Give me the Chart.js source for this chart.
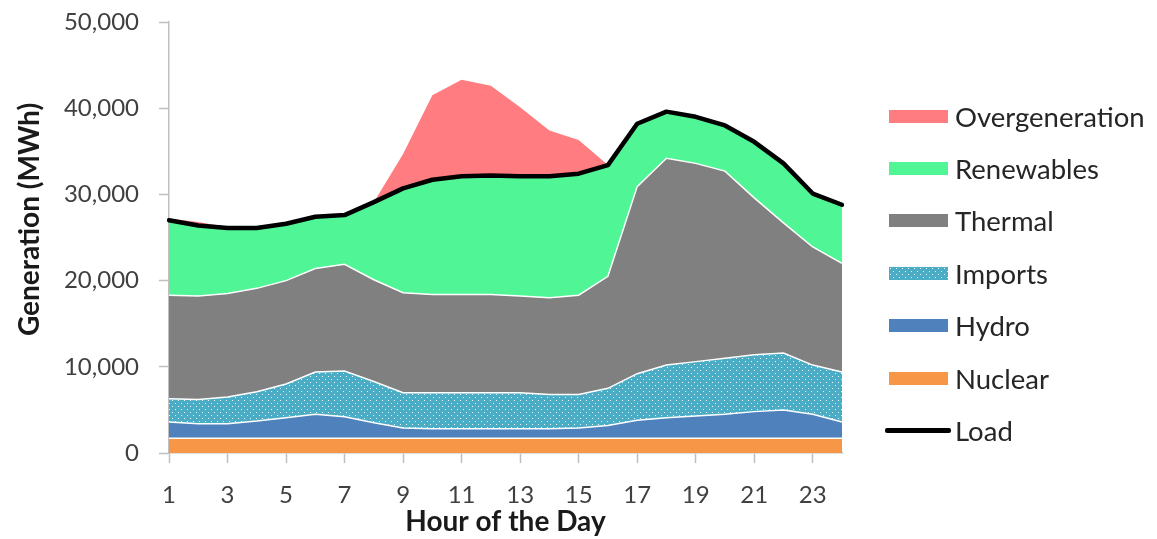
<!DOCTYPE html>
<html>
<head>
<meta charset="utf-8">
<script src="https://cdn.jsdelivr.net/npm/chart.js@4.4.1/dist/chart.umd.min.js"></script>
<style>
  html, body { margin: 0; padding: 0; background: #fff; }
  #wrap { position: relative; width: 1157px; height: 539px; }
  .item { position: absolute; left: 889px; height: 30px; display: flex; align-items: center;
          font: 27.5px Lato; color: #262626; white-space: nowrap; }
  .swatch { width: 59px; height: 13px; margin-right: 7px; }
  .swatch.line { width: 66px; height: 5px; margin-left: -4px; margin-right: 4px; border-radius: 2px; }
</style>
</head>
<body>
<div id="wrap">
  <canvas id="genChart" width="1157" height="539"></canvas>
  <div id="legend"></div>
</div>
<script>
// Hourly generation by source (MWh)
const hours = ["1","2","3","4","5","6","7","8","9","10","11","12","13","14","15","16","17","18","19","20","21","22","23","24"];
const nuclear = [1700,1700,1700,1700,1700,1700,1700,1700,1700,1700,1700,1700,1700,1700,1700,1700,1700,1700,1700,1700,1700,1700,1700,1700];
const hydro = [1900,1700,1700,2000,2400,2800,2500,1800,1200,1100,1100,1100,1100,1100,1200,1500,2100,2400,2600,2800,3100,3300,2800,1900];
const imports = [2700,2800,3100,3400,3900,4900,5300,4800,4100,4200,4200,4200,4200,4000,3900,4300,5400,6100,6300,6500,6600,6600,5700,5800];
const thermal = [12000,12000,12000,12000,12000,12000,12400,11800,11600,11400,11400,11400,11200,11200,11500,13000,21700,24000,23000,21700,18200,15100,13700,12600];
const renewables = [8700,8200,7600,7000,6600,6000,5700,9000,12100,13300,13700,13800,13900,14100,14100,12900,7300,5400,5400,5300,6500,6900,6200,6800];
const overgeneration = [200,400,100,0,0,0,0,0,4000,9800,11200,10400,8000,5300,3900,0,0,0,0,0,0,0,0,0];
const load = [27000,26400,26100,26100,26600,27400,27600,29100,30700,31700,32100,32200,32100,32100,32400,33400,38200,39600,39000,38000,36100,33600,30100,28800];

const ctx = document.getElementById("genChart").getContext("2d");

// dotted fill for imports
const pc = document.createElement("canvas");
pc.width = 6; pc.height = 6;
const p = pc.getContext("2d");
p.fillStyle = "#4bacc6";
p.fillRect(0, 0, 6, 6);
p.fillStyle = "rgba(255,255,255,0.9)";
p.fillRect(1, 1, 1, 1);
p.fillRect(4, 4, 1, 1);
const importsFill = ctx.createPattern(pc, "repeat");

const axisGrey = "#bfbfbf";
const tickFont = { family: "Lato", size: 24 };
const titleFont = { family: "Lato", size: 28, weight: "bold" };

// y axis title sits a bit above the middle in the original
const yTitle = {
    id: "yTitle",
    afterDraw(chart) {
        const c = chart.ctx;
        const a = chart.chartArea;
        c.save();
        c.translate(30, (a.top + a.bottom) / 2 - 18);
        c.rotate(-Math.PI / 2);
        c.font = "bold 28px Lato";
        c.fillStyle = "#1a1a1a";
        c.textAlign = "center";
        c.textBaseline = "middle";
        c.fillText("Generation (MWh)", 0, 0);
        c.restore();
    }
};

const genChart = new Chart(ctx, {
    type: "line",
    data: {
        labels: hours,
        datasets: [
            { label: "Nuclear", data: nuclear, backgroundColor: "#f79646", borderColor: "#ffffff", borderWidth: 1.5, fill: "origin" },
            { label: "Hydro", data: hydro, backgroundColor: "#4f81bd", borderColor: "#ffffff", borderWidth: 1.5, fill: "-1" },
            { label: "Imports", data: imports, backgroundColor: importsFill, borderColor: "#ffffff", borderWidth: 1.5, fill: "-1" },
            { label: "Thermal", data: thermal, backgroundColor: "#808080", borderColor: "#ffffff", borderWidth: 1.5, fill: "-1" },
            { label: "Renewables", data: renewables, backgroundColor: "#50f596", borderColor: "#50f596", borderWidth: 0, fill: "-1" },
            { label: "Overgeneration", data: overgeneration, backgroundColor: "#ff7c80", borderColor: "#ff7c80", borderWidth: 0, fill: "-1" },
            { label: "Load", data: load, borderColor: "#000000", borderWidth: 4.5, fill: false, stack: "load", order: -1,
              borderJoinStyle: "round", borderCapStyle: "round" }
        ]
    },
    options: {
        responsive: false,
        animation: false,
        layout: { padding: { top: 22, right: 315, left: 0, bottom: 0 } },
        elements: { point: { radius: 0 }, line: { tension: 0 } },
        plugins: {
            legend: { display: false },
            tooltip: { enabled: false }
        },
        scales: {
            x: {
                grid: {
                    drawOnChartArea: false,
                    tickLength: 10,
                    tickWidth: 1.5,
                    tickColor: (c) => (c.index % 2 === 0 ? axisGrey : "rgba(0,0,0,0)")
                },
                border: { color: axisGrey, width: 1.5 },
                ticks: {
                    autoSkip: false,
                    maxRotation: 0,
                    padding: 18,
                    font: tickFont,
                    color: "#404040",
                    callback: (v, i) => (i % 2 === 0 ? hours[i] : "")
                },
                title: { display: true, text: "Hour of the Day", font: titleFont, color: "#1a1a1a", padding: 0 },
                afterFit: (s) => { s.height = 86; s.paddingLeft = 0; s.paddingRight = 0; }
            },
            y: {
                stacked: true,
                min: 0,
                max: 50000,
                grid: { drawOnChartArea: false, tickLength: 10, tickWidth: 1.5, tickColor: axisGrey },
                border: { color: axisGrey, width: 1.5 },
                ticks: {
                    stepSize: 10000,
                    padding: 20,
                    font: tickFont,
                    color: "#404040",
                    callback: (v) => v.toLocaleString("en-US")
                },
                afterFit: (s) => { s.width = 169; s.paddingTop = 0; s.paddingBottom = 0; }
            }
        }
    },
    plugins: [yTitle]
});

// Legend on the right, top to bottom as in the original
const legend = document.getElementById("legend");
[5, 4, 3, 2, 1, 0, 6].forEach((di, row) => {
    const ds = genChart.data.datasets[di];
    const item = document.createElement("div");
    item.className = "item";
    item.style.top = (116 + row * 52.4 - 15) + "px";
    const sw = document.createElement("div");
    if (ds.label === "Load") {
        sw.className = "swatch line";
        sw.style.background = ds.borderColor;
    } else {
        sw.className = "swatch";
        if (ds.label === "Imports") {
            sw.style.backgroundImage = "url(" + pc.toDataURL() + ")";
        } else {
            sw.style.background = ds.backgroundColor;
        }
    }
    item.appendChild(sw);
    item.appendChild(document.createTextNode(ds.label));
    legend.appendChild(item);
});
</script>
</body>
</html>
